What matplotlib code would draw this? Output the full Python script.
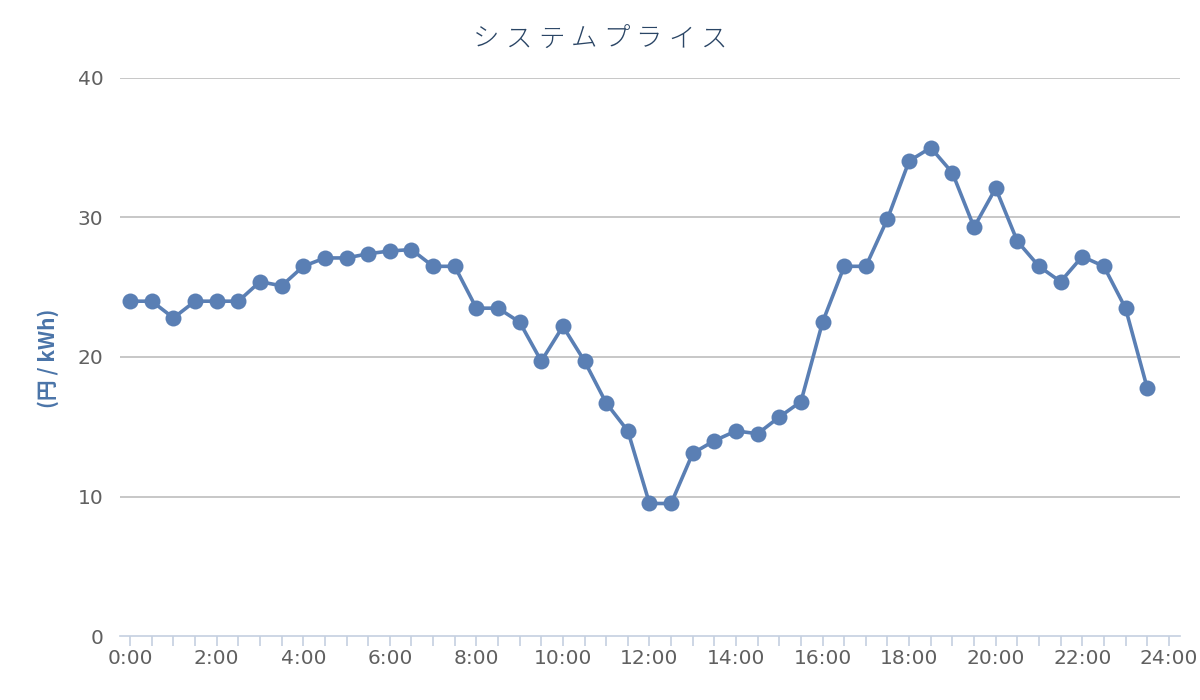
import matplotlib
matplotlib.use("Agg")
import matplotlib.pyplot as plt
from matplotlib.ticker import FixedLocator

plt.rcParams['font.family'] = ['Noto Sans CJK JP', 'DejaVu Sans']

times = [f"{h}:{m:02d}" for h in range(24) for m in (0, 30)]
prices = [24.0, 24.0, 22.8, 24.0, 24.0, 24.0, 25.4, 25.1,
          26.5, 27.1, 27.1, 27.4, 27.6, 27.7, 26.5, 26.5,
          23.5, 23.5, 22.5, 19.7, 22.2, 19.7, 16.7, 14.7,
          9.5, 9.5, 13.1, 14.0, 14.7, 14.5, 15.7, 16.8,
          22.5, 26.5, 26.5, 29.9, 34.05, 35.0, 33.2, 29.3,
          32.1, 28.3, 26.5, 25.4, 27.2, 26.5, 23.5, 17.8]
x_labels = ["0:00", "2:00", "4:00", "6:00", "8:00", "10:00", "12:00",
            "14:00", "16:00", "18:00", "20:00", "22:00", "24:00"]
y_ticks = [0, 10, 20, 30, 40]
title = "システムプライス"
ylabel = "(円 / kWh)"

fig = plt.figure(figsize=(12, 7), dpi=100)
ax = fig.add_axes([0.1, 0.0914, 0.883, 0.7972])

xs = list(range(len(prices)))
ax.plot(xs, prices, color="#5a7fb4", lw=2.6, marker="o", ms=11.5,
        markeredgewidth=0, zorder=3)

ax.set_xlim(-0.47, 48.5)
ax.set_ylim(0, 40)
ax.set_yticks(y_ticks)
ax.set_yticklabels([str(v) for v in y_ticks])
ax.xaxis.set_major_locator(FixedLocator([i * 4 for i in range(13)]))
ax.set_xticklabels(x_labels)
ax.xaxis.set_minor_locator(FixedLocator([i for i in range(49) if i % 4]))

for v in y_ticks[1:]:
    ax.axhline(v, color="#bdbdbd", lw=1.2, zorder=1)

for s in ("top", "right", "left"):
    ax.spines[s].set_visible(False)
ax.spines["bottom"].set_color("#c5d0e0")
ax.spines["bottom"].set_linewidth(1.2)

ax.tick_params(axis="y", length=0, pad=12, labelsize=14.5, labelcolor="#606060")
ax.tick_params(axis="x", which="both", length=7, width=1.2, color="#c5d0e0",
               pad=2, labelsize=14.5, labelcolor="#606060")
ax.tick_params(axis="x", which="minor", labelbottom=False)

for lab in ax.get_xticklabels() + ax.get_yticklabels():
    lab.set_family(["DejaVu Sans"])

pitch = 32.5 / 1200
n = len(title)
for i, ch in enumerate(title):
    fig.text(0.5 + (i - (n - 1) / 2) * pitch, 0.945, ch, ha="center", va="center",
             fontsize=19, color="#2a4565",
             family=["Noto Sans CJK JP", "DejaVu Sans"], fontweight="light")
fig.text(0.04, 0.488, ylabel, rotation=90, ha="center", va="center",
         fontsize=15, fontweight="bold", color="#4a74a8",
         family=["Noto Sans CJK JP", "DejaVu Sans"])

fig.savefig("out.png", dpi=100, facecolor="white")
